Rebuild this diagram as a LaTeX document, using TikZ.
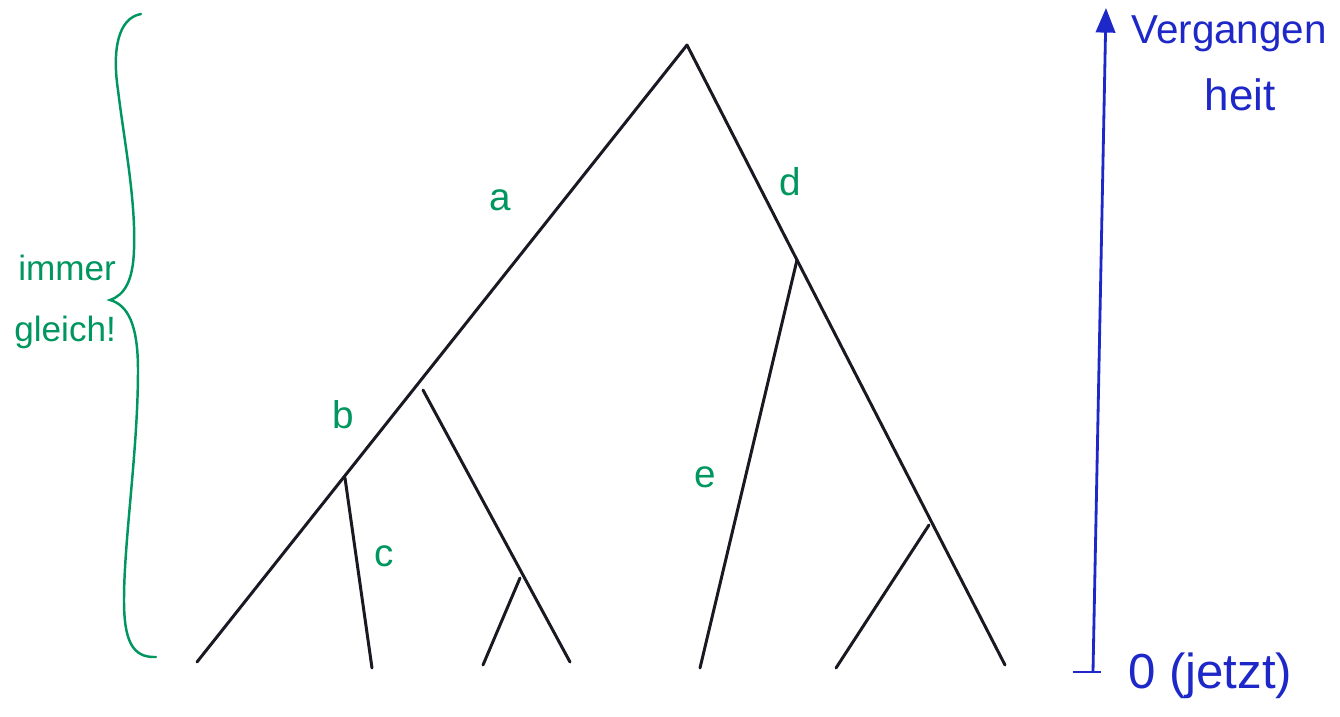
\documentclass[tikz,border=0pt]{standalone}
\usepackage{fontspec}
\setmainfont{Liberation Sans}
\usetikzlibrary{arrows.meta}
\definecolor{pen}{RGB}{25,25,35}
\definecolor{grn}{RGB}{0,150,95}
\definecolor{blu}{RGB}{30,40,200}
\begin{document}
\begin{tikzpicture}[x=0.02cm,y=-0.02cm,
  branch/.style={draw=pen,line width=1.7pt,line cap=round},
  lbl/.style={text=grn,font=\fontsize{22}{24}\selectfont,inner sep=0pt},
  note/.style={text=grn,font=\fontsize{20}{22}\selectfont,inner sep=0pt,anchor=west},
  axis/.style={draw=blu,line width=1.6pt},
  btext/.style={text=blu,inner sep=0pt}]
\fill[white] (0,0) rectangle (1340,717);
\useasboundingbox (0,0) rectangle (1340,717);
% tree points
\coordinate (root) at (687,45);
\coordinate (bnode) at (345,478);
\coordinate (leafA) at (197,662);
\coordinate (leafB) at (372,668);
\coordinate (sB) at (423,390);
\coordinate (mnode) at (520,578);
\coordinate (leafC) at (483,665);
\coordinate (leafD) at (570,662);
\coordinate (dnode) at (797,260);
\coordinate (leafE) at (700,668);
\coordinate (enode) at (929,525);
\coordinate (leafF) at (836,668);
\coordinate (leafG) at (1005,665);
% branches
\draw[branch] (root) -- (leafA);
\draw[branch] (bnode) -- (leafB);
\draw[branch] (sB) -- (leafD);
\draw[branch] (mnode) -- (leafC);
\draw[branch] (root) -- (dnode);
\draw[branch] (dnode) -- (leafE);
\draw[branch] (dnode) -- (leafG);
\draw[branch] (enode) -- (leafF);
% labels
\node[lbl] (la) at (500,200) {a};
\node[lbl] (lb) at (343,415) {b};
\node[lbl] (lc) at (384,556) {c};
\node[lbl] (ld) at (790,182) {d};
\node[lbl] (le) at (705,477) {e};
% brace
\draw[grn,line width=1.4pt,line cap=round]
  (141,14) .. controls (118,18) and (112,50) .. (118,90)
  .. controls (124,140) and (136,200) .. (134,250)
  .. controls (133,280) and (125,295) .. (110,300)
  .. controls (128,305) and (138,325) .. (138,370)
  .. controls (138,450) and (124,540) .. (124,600)
  .. controls (124,640) and (132,658) .. (156,657);
\node[note] (immer) at (18,268) {immer};
\node[note] (gleich) at (14,332) {gleich!};
% time axis
\coordinate (tbot) at (1093,672);
\coordinate (ttop) at (1106,8);
\coordinate (tickl) at (1073,672);
\coordinate (tickr) at (1101,672);
\draw[axis,-{Triangle[length=14pt,width=11pt]}] (tbot) -- (ttop);
\draw[axis] (tickl) -- (tickr);
\node[btext,anchor=west,font=\fontsize{23}{25}\selectfont] (verg) at (1131,34) {Vergangen};
\node[btext,font=\fontsize{25}{27}\selectfont] (heit) at (1240,95) {heit};
\node[btext,anchor=west,font=\fontsize{28}{30}\selectfont] (jetzt) at (1128,676) {0 (jetzt)};
\end{tikzpicture}
\end{document}
